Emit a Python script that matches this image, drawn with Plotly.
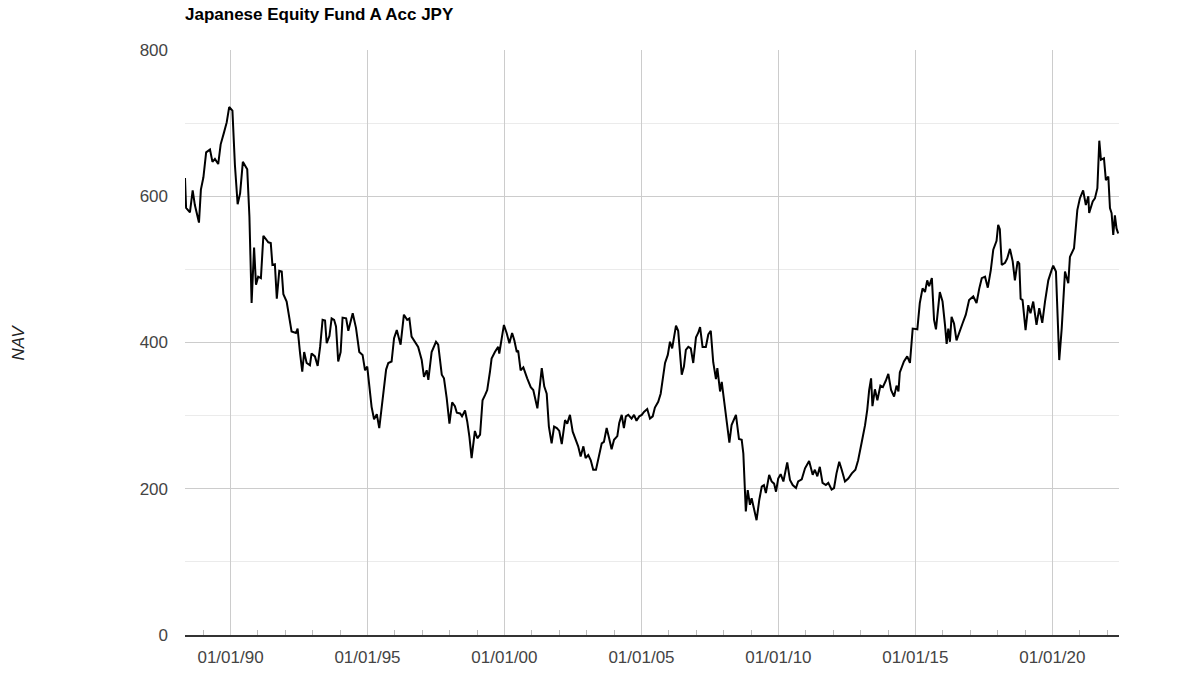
import plotly.graph_objects as go
from datetime import datetime, timedelta

# Decimal-year positions
years = [
    1988.34, 1988.38, 1988.52, 1988.62, 1988.70, 1988.85, 1988.92, 1989.01, 1989.11, 1989.25,
    1989.34, 1989.43, 1989.55, 1989.64, 1989.76, 1989.86, 1989.95, 1990.07, 1990.16, 1990.26,
    1990.35, 1990.45, 1990.61, 1990.69, 1990.77, 1990.86, 1990.93, 1991.01, 1991.11, 1991.20,
    1991.38, 1991.47, 1991.53, 1991.62, 1991.69, 1991.78, 1991.87, 1991.93, 1992.05, 1992.11,
    1992.23, 1992.39, 1992.45, 1992.54, 1992.62, 1992.69, 1992.78, 1992.90, 1992.96, 1993.08,
    1993.18, 1993.27, 1993.36, 1993.45, 1993.51, 1993.61, 1993.69, 1993.78, 1993.85, 1993.93,
    1994.02, 1994.09, 1994.22, 1994.30, 1994.46, 1994.58, 1994.70, 1994.82, 1994.91, 1994.99,
    1995.07, 1995.15, 1995.24, 1995.34, 1995.43, 1995.55, 1995.68, 1995.76, 1995.88, 1995.97,
    1996.07, 1996.21, 1996.33, 1996.45, 1996.53, 1996.61, 1996.73, 1996.85, 1996.98, 1997.06,
    1997.16, 1997.22, 1997.34, 1997.50, 1997.58, 1997.71, 1997.79, 1997.89, 1997.99, 1998.09,
    1998.19, 1998.26, 1998.38, 1998.45, 1998.56, 1998.64, 1998.72, 1998.80, 1998.92, 1999.01,
    1999.11, 1999.20, 1999.29, 1999.37, 1999.47, 1999.53, 1999.65, 1999.77, 1999.81, 1999.90,
    1999.98, 2000.08, 2000.18, 2000.28, 2000.36, 2000.45, 2000.50, 2000.59, 2000.69, 2000.83,
    2000.96, 2001.05, 2001.20, 2001.36, 2001.45, 2001.54, 2001.62, 2001.72, 2001.81, 2001.91,
    2002.00, 2002.09, 2002.21, 2002.29, 2002.39, 2002.49, 2002.61, 2002.69, 2002.78, 2002.88,
    2002.96, 2003.06, 2003.15, 2003.24, 2003.34, 2003.42, 2003.55, 2003.63, 2003.73, 2003.82,
    2003.91, 2004.00, 2004.12, 2004.19, 2004.28, 2004.36, 2004.43, 2004.52, 2004.64, 2004.73,
    2004.82, 2004.92, 2005.01, 2005.09, 2005.21, 2005.31, 2005.41, 2005.49, 2005.61, 2005.70,
    2005.77, 2005.86, 2005.96, 2006.04, 2006.12, 2006.19, 2006.26, 2006.34, 2006.41, 2006.47,
    2006.55, 2006.62, 2006.71, 2006.80, 2006.89, 2006.99, 2007.07, 2007.14, 2007.23, 2007.35,
    2007.44, 2007.53, 2007.62, 2007.72, 2007.77, 2007.87, 2007.93, 2008.01, 2008.08, 2008.21,
    2008.29, 2008.45, 2008.56, 2008.66, 2008.72, 2008.81, 2008.88, 2008.96, 2009.02, 2009.11,
    2009.20, 2009.30, 2009.39, 2009.47, 2009.54, 2009.66, 2009.75, 2009.84, 2009.91, 2009.99,
    2010.08, 2010.18, 2010.32, 2010.42, 2010.52, 2010.64, 2010.72, 2010.85, 2010.97, 2011.12,
    2011.25, 2011.33, 2011.42, 2011.51, 2011.61, 2011.73, 2011.82, 2011.94, 2012.03, 2012.12,
    2012.22, 2012.31, 2012.43, 2012.55, 2012.68, 2012.81, 2012.91, 2013.04, 2013.16, 2013.24,
    2013.31, 2013.38, 2013.43, 2013.52, 2013.61, 2013.72, 2013.81, 2013.92, 2014.01, 2014.11,
    2014.22, 2014.31, 2014.38, 2014.43, 2014.58, 2014.70, 2014.80, 2014.90, 2015.07, 2015.16,
    2015.26, 2015.35, 2015.43, 2015.50, 2015.60, 2015.68, 2015.75, 2015.89, 2015.99, 2016.08,
    2016.14, 2016.20, 2016.26, 2016.32, 2016.41, 2016.50, 2016.60, 2016.72, 2016.84, 2016.96,
    2017.11, 2017.23, 2017.33, 2017.42, 2017.54, 2017.64, 2017.75, 2017.84, 2017.96, 2018.02,
    2018.08, 2018.15, 2018.27, 2018.35, 2018.45, 2018.55, 2018.63, 2018.73, 2018.79, 2018.84,
    2018.91, 2019.02, 2019.12, 2019.20, 2019.30, 2019.42, 2019.52, 2019.63, 2019.73, 2019.85,
    2019.97, 2020.03, 2020.13, 2020.25, 2020.34, 2020.46, 2020.58, 2020.64, 2020.79, 2020.91,
    2021.00, 2021.12, 2021.22, 2021.31, 2021.34, 2021.47, 2021.55, 2021.64, 2021.71, 2021.77,
    2021.88, 2021.95, 2022.04, 2022.10, 2022.16, 2022.22, 2022.28, 2022.34, 2022.40,
]

nav = [
    625, 584, 578, 608, 588, 564, 609, 626, 660, 664,
    647, 651, 644, 671, 687, 701, 722, 717, 643, 589,
    604, 647, 637, 572, 454, 530, 479, 490, 488, 546,
    537, 536, 506, 507, 460, 498, 497, 466, 456, 444,
    415, 413, 419, 385, 360, 387, 372, 369, 385, 381,
    368, 394, 431, 430, 399, 409, 433, 431, 422, 374,
    387, 434, 433, 416, 440, 420, 387, 383, 362, 367,
    342, 312, 295, 302, 283, 321, 363, 372, 374, 406,
    417, 397, 438, 431, 433, 408, 401, 394, 376, 353,
    362, 349, 387, 401, 397, 356, 351, 324, 289, 318,
    313, 304, 303, 299, 307, 292, 271, 242, 279, 269,
    274, 321, 328, 335, 360, 378, 387, 394, 385, 406,
    424, 413, 399, 413, 403, 387, 389, 362, 366, 351,
    339, 335, 310, 365, 340, 330, 285, 262, 285, 283,
    279, 261, 294, 289, 301, 278, 267, 258, 244, 258,
    242, 246, 239, 226, 226, 239, 262, 264, 283, 269,
    254, 267, 272, 290, 301, 283, 299, 301, 296, 301,
    293, 299, 301, 305, 309, 296, 299, 311, 319, 330,
    349, 372, 383, 401, 392, 408, 423, 416, 381, 356,
    367, 390, 394, 392, 372, 407, 413, 421, 394, 394,
    411, 416, 373, 350, 365, 333, 346, 321, 298, 263,
    287, 301, 268, 267, 248, 169, 198, 178, 187, 173,
    157, 185, 203, 205, 194, 219, 210, 207, 196, 214,
    220, 210, 236, 212, 205, 201, 210, 213, 228, 238,
    219, 226, 217, 230, 208, 205, 208, 199, 201, 221,
    237, 226, 210, 214, 221, 226, 239, 264, 287, 308,
    335, 351, 313, 336, 321, 341, 339, 348, 357, 335,
    326, 341, 333, 359, 374, 381, 372, 419, 418, 454,
    474, 469, 485, 477, 488, 431, 418, 469, 456, 424,
    398, 419, 401, 435, 426, 403, 415, 426, 438, 458,
    463, 454, 474, 488, 490, 475, 499, 527, 539, 561,
    555, 506, 509, 515, 528, 511, 485, 511, 508, 460,
    458, 417, 451, 440, 456, 424, 447, 427, 456, 485,
    499, 505, 497, 376, 419, 497, 481, 517, 529, 581,
    597, 608, 588, 600, 577, 593, 597, 611, 676, 650,
    652, 622, 627, 584, 577, 547, 574, 556, 549,
]

title_text = "Japanese Equity Fund A Acc JPY"
y_title = "NAV"
range_start_year = 1988.34
range_end_year = 2022.43


def to_date(y):
    yr = int(y)
    return datetime(yr, 1, 1) + timedelta(days=(y - yr) * 365.25)


dates = [to_date(y) for y in years]

FONT = "Liberation Sans, Arial, sans-serif"

fig = go.Figure()
fig.add_trace(go.Scatter(
    x=dates, y=nav, mode="lines",
    line=dict(color="#000000", width=2),
    hoverinfo="x+y", showlegend=False,
))

fig.update_layout(
    width=1194, height=682,
    margin=dict(l=185, r=75, t=50, b=47),
    paper_bgcolor="white", plot_bgcolor="white",
    font=dict(family=FONT, size=17, color="#444444"),
    title=dict(
        text="<b>" + title_text + "</b>",
        x=0, xref="paper", xanchor="left",
        y=1 - 14 / 682, yref="container", yanchor="middle",
        font=dict(family=FONT, size=17, color="#000000"),
    ),
    showlegend=False,
)

fig.update_xaxes(
    type="date",
    range=[to_date(range_start_year), to_date(range_end_year)],
    tick0="1990-01-01", dtick="M60", tickformat="%d/%m/%y",
    showgrid=True, gridcolor="#cccccc", gridwidth=1,
    showline=True, linecolor="#333333", linewidth=1.5,
    ticks="", ticklabelstandoff=6,
    tickfont=dict(family=FONT, size=17, color="#444444"),
    minor=dict(dtick="M12", tick0="1990-01-01", ticks="inside", ticklen=5,
               tickcolor="#bbbbbb", tickwidth=1, showgrid=False),
    zeroline=False,
)
fig.update_yaxes(
    range=[0, 800], dtick=200, tick0=0,
    showgrid=True, gridcolor="#cccccc", gridwidth=1,
    minor=dict(dtick=100, showgrid=True, gridcolor="#ebebeb", gridwidth=1),
    showline=False, zeroline=False, ticks="",
    ticklabelstandoff=16,
    tickfont=dict(family=FONT, size=17, color="#444444"),
)

fig.add_annotation(
    text="<i>" + y_title + "</i>",
    xref="paper", yref="paper",
    x=(18 - 185) / 934, y=0.5,
    xanchor="center", yanchor="middle",
    textangle=-90, showarrow=False,
    font=dict(family=FONT, size=17, color="#222222"),
)

fig.write_html("out.html")
